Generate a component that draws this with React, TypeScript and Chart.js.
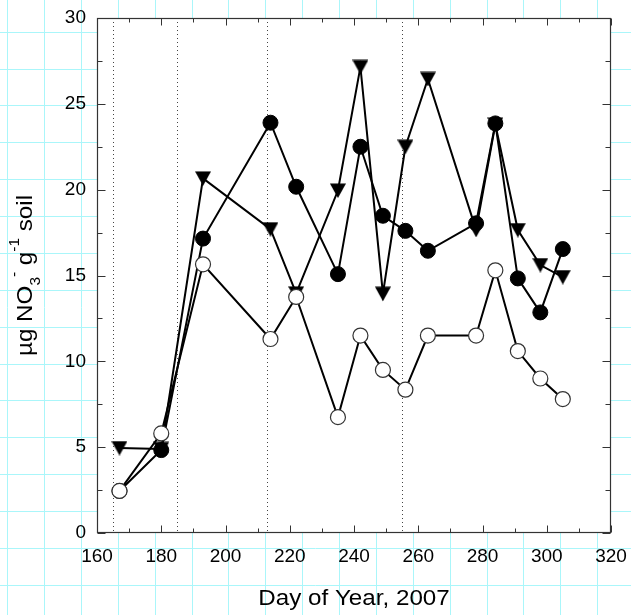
import React, { useEffect, useRef } from "react";
import { Chart, registerables } from "chart.js";

Chart.register(...registerables);

// ---- data ----
const days = [167, 180, 193, 214, 222, 235, 242, 249, 256, 263, 278, 284, 291, 298, 305];
const openSeries = [2.45, 5.8, 15.65, 11.3, 13.75, 6.75, 11.5, 9.5, 8.35, 11.5, 11.5, 15.3, 10.6, 9.0, 7.8];
const filledSeries = [2.45, 4.83, 17.15, 23.9, 20.17, 15.08, 22.5, 18.48, 17.6, 16.44, 18.04, 23.86, 14.83, 12.85, 16.54];
const triangleSeries = [4.95, 4.9, 20.66, 17.7, 13.96, 19.95, 27.15, 13.94, 22.5, 26.45, 17.66, 23.8, 17.65, 15.61, 14.91];
const xMajorTicks = [160, 180, 200, 220, 240, 260, 280, 300, 320];
const xMinorTicks = [170, 190, 210, 230, 250, 270, 290, 310];
const yMajorTicks = [0, 5, 10, 15, 20, 25, 30];
const yMinorTicks = [2.5, 7.5, 12.5, 17.5, 22.5, 27.5];
const markerDays = [165, 185, 213, 255];
const xTitle = "Day of Year, 2007";
const yTitleParts = [
  { t: "µg NO", kind: "n" },
  { t: "3", kind: "sub" },
  { t: "-", kind: "sup" },
  { t: " g", kind: "n" },
  { t: "-1", kind: "sup" },
  { t: " soil", kind: "n" },
];

const FONT = "'Liberation Sans', Arial, Helvetica, sans-serif";
const TITLE_SIZE = 22;
const TITLE_STRETCH = 1.1;

function makeTriangle(): HTMLCanvasElement {
  const c = document.createElement("canvas");
  c.width = 16;
  c.height = 15;
  const g = c.getContext("2d")!;
  g.fillStyle = "#000";
  g.beginPath();
  g.moveTo(0, 0.5);
  g.lineTo(16, 0.5);
  g.lineTo(8, 15);
  g.closePath();
  g.fill();
  return c;
}

const paperPlugin = {
  id: "paper",
  beforeDraw(chart: any) {
    const { ctx, width, height, chartArea: a } = chart;
    ctx.save();
    ctx.fillStyle = "#fff";
    ctx.fillRect(0, 0, width, height);
    ctx.strokeStyle = "rgb(170,246,250)";
    ctx.lineWidth = 1;
    ctx.beginPath();
    const step = 36.87;
    for (let x = 7.2; x < width; x += step) {
      const px = Math.round(x) + 0.5;
      ctx.moveTo(px, 0);
      ctx.lineTo(px, height);
    }
    for (let y = 31.7 - step; y < height; y += step) {
      if (y < 0) continue;
      const py = Math.round(y) + 0.5;
      ctx.moveTo(0, py);
      ctx.lineTo(width, py);
    }
    ctx.stroke();
    ctx.fillStyle = "#fff";
    ctx.fillRect(a.left, a.top, a.right - a.left, a.bottom - a.top);
    ctx.restore();
  },
  beforeDatasetsDraw(chart: any) {
    const { ctx, chartArea: a, scales } = chart;
    const xs = scales.x;
    const ys = scales.y;
    ctx.save();
    ctx.strokeStyle = "#444";
    ctx.lineWidth = 1;
    ctx.setLineDash([1, 3]);
    ctx.beginPath();
    markerDays.forEach((d) => {
      const px = Math.round(xs.getPixelForValue(d)) + 0.5;
      ctx.moveTo(px, a.top);
      ctx.lineTo(px, a.bottom);
    });
    ctx.stroke();
    ctx.setLineDash([]);
    ctx.strokeStyle = "#333";
    ctx.lineWidth = 1;
    ctx.beginPath();
    const L = Math.round(a.left) + 0.5;
    const R = Math.round(a.right) - 0.5;
    const T = Math.round(a.top) + 0.5;
    const B = Math.round(a.bottom) - 0.5;
    const xt = (vals: number[], len: number) =>
      vals.forEach((v) => {
        const px = Math.round(xs.getPixelForValue(v)) + 0.5;
        ctx.moveTo(px, B);
        ctx.lineTo(px, B - len);
        ctx.moveTo(px, T);
        ctx.lineTo(px, T + len);
      });
    const yt = (vals: number[], len: number) =>
      vals.forEach((v) => {
        const py = Math.round(ys.getPixelForValue(v)) + 0.5;
        ctx.moveTo(L, py);
        ctx.lineTo(L + len, py);
        ctx.moveTo(R, py);
        ctx.lineTo(R - len, py);
      });
    xt(xMajorTicks, 7);
    xt(xMinorTicks, 4);
    yt(yMajorTicks, 8);
    yt(yMinorTicks, 5);
    ctx.stroke();
    ctx.strokeStyle = "#333";
    ctx.lineWidth = 1.2;
    ctx.strokeRect(L, T, R - L, B - T);
    ctx.restore();
  },
  afterDraw(chart: any) {
    const { ctx, chartArea: a } = chart;
    ctx.save();
    ctx.fillStyle = "#000";
    ctx.font = `${TITLE_SIZE}px ${FONT}`;
    ctx.textAlign = "center";
    ctx.textBaseline = "alphabetic";
    ctx.translate((a.left + a.right) / 2, 605);
    ctx.scale(TITLE_STRETCH, 1);
    ctx.fillText(xTitle, 0, 0);
    ctx.restore();
    ctx.save();
    ctx.fillStyle = "#000";
    ctx.translate(32, (a.top + a.bottom) / 2);
    ctx.rotate(-Math.PI / 2);
    ctx.scale(TITLE_STRETCH, 1);
    ctx.textBaseline = "alphabetic";
    ctx.textAlign = "left";
    const fontFor = (k: string) => (k === "n" ? `${TITLE_SIZE}px ${FONT}` : `14px ${FONT}`);
    let total = 0;
    yTitleParts.forEach((p) => {
      ctx.font = fontFor(p.kind);
      total += ctx.measureText(p.t).width;
    });
    let x = -total / 2;
    yTitleParts.forEach((p) => {
      ctx.font = fontFor(p.kind);
      const dy = p.kind === "sub" ? 8 : p.kind === "sup" ? -13 : 0;
      ctx.fillText(p.t, x, dy);
      x += ctx.measureText(p.t).width;
    });
    ctx.restore();
  },
};

export default function App() {
  const ref = useRef<HTMLCanvasElement | null>(null);
  useEffect(() => {
    if (!ref.current) return;
    const tri = makeTriangle();
    const toPts = (vals: number[]) => days.map((d, i) => ({ x: d, y: vals[i] }));
    const lineOnly = (vals: number[], label: string) => ({
      label,
      data: toPts(vals),
      borderColor: "#000",
      borderWidth: 2,
      pointRadius: 0,
      tension: 0,
      order: 10,
    });
    const chart = new Chart(ref.current, {
      type: "line",
      data: {
        datasets: [
          {
            label: "open",
            data: toPts(openSeries),
            showLine: false,
            pointStyle: "circle",
            pointRadius: 7.5,
            pointBackgroundColor: "#fff",
            pointBorderColor: "#333",
            pointBorderWidth: 1.2,
            order: 0,
          },
          {
            label: "filled",
            data: toPts(filledSeries),
            showLine: false,
            pointStyle: "circle",
            pointRadius: 7.5,
            pointBackgroundColor: "#000",
            pointBorderColor: "#000",
            pointBorderWidth: 1,
            order: 1,
          },
          {
            label: "triangle",
            data: toPts(triangleSeries),
            showLine: false,
            pointStyle: tri as any,
            pointRadius: 8,
            pointBackgroundColor: "#000",
            pointBorderColor: "#000",
            order: 2,
          },
          lineOnly(openSeries, "open-line"),
          lineOnly(filledSeries, "filled-line"),
          lineOnly(triangleSeries, "triangle-line"),
        ] as any,
      },
      options: {
        animation: false,
        responsive: false,
        devicePixelRatio: 1,
        layout: { padding: { top: 18, right: 20, left: 0, bottom: 0 } },
        plugins: { legend: { display: false }, tooltip: { enabled: false } },
        events: [],
        scales: {
          x: {
            type: "linear",
            min: 160,
            max: 320,
            grid: { display: false, drawTicks: false },
            border: { display: false },
            ticks: {
              stepSize: 20,
              padding: 12,
              color: "#000",
              font: { family: FONT, size: 19 },
              maxRotation: 0,
            },
            afterFit: (s: any) => {
              s.height = 82;
              s.paddingLeft = 0;
              s.paddingRight = 0;
            },
          },
          y: {
            type: "linear",
            min: 0,
            max: 30,
            grid: { display: false, drawTicks: false },
            border: { display: false },
            ticks: {
              stepSize: 5,
              padding: 11,
              color: "#000",
              font: { family: FONT, size: 19 },
            },
            afterFit: (s: any) => {
              s.width = 97;
              s.paddingTop = 0;
              s.paddingBottom = 0;
            },
          },
        },
      },
      plugins: [paperPlugin],
    });
    return () => chart.destroy();
  }, []);
  return (
    <div style={{ position: "fixed", left: 0, top: 0, width: 631, height: 615 }}>
      <canvas ref={ref} width={631} height={615} style={{ width: 631, height: 615, display: "block" }} />
    </div>
  );
}
